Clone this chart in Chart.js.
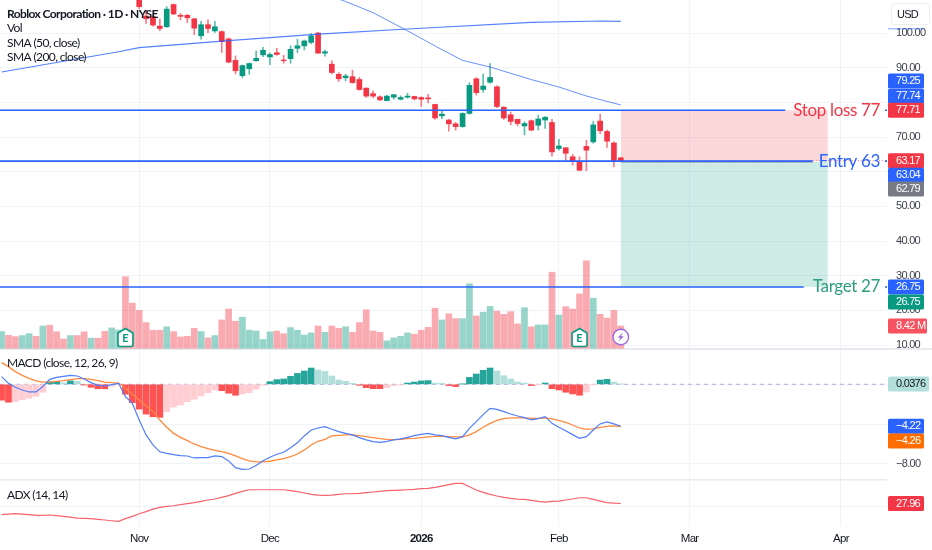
<!DOCTYPE html>
<html>
<head>
<meta charset="utf-8">
<title>Roblox Corporation</title>
<script src="https://cdn.jsdelivr.net/npm/chart.js@4"></script>
<style>
    html, body { margin: 0; padding: 0; background: #ffffff; overflow: hidden; }
    canvas { display: block; }
</style>
</head>
<body>
<canvas id="chart" width="932" height="550"></canvas>
<script>
// Daily candles, Nov 3 2025 onwards. Anything before index 20 is off the top of the pane
const firstCandle = 20;
const opens = [112,104.9,104.7,102,101.8,108.2,105.1,105.1,104.1,99.2,102.4,100.6,100.4,98.3,92.1,87.7,89.7,92,93.7,93.1,94.3,92.2,92.6,95.6,96.3,97.3,100,94.2,91,88.1,87.1,87.4,86.6,84.1,82.5,81.6,80.5,81.5,80.9,81.5,81.7,81.4,81.3,79.4,76.1,74.9,73.8,73,76.8,86.8,83.7,85.8,84.5,78.6,76.4,75.1,73.2,74.7,73.4,74.9,74.2,66.7,66.9,64.3,63,67.3,68.6,74.6,71.6,68.3,64];
const closes = [107.6,104.1,102.3,101.3,106.9,105.5,104.8,104.4,101.4,102.4,101.3,101.8,97.5,91.6,89.1,90.6,91.2,92.7,95,93.8,93.8,92,95.3,96.3,97.7,99.2,94.2,94.6,88.6,86.8,87.6,85.7,83.7,81.8,81.8,80.7,81.8,82.2,81.4,81.8,81,80.9,81,75.5,76.6,73.8,73,76.8,84.9,82.8,84.7,87.2,78.8,75.5,74.5,73.9,73.9,72,75.2,75.7,65.7,67.4,65.3,63,60.4,66.2,73.5,71.8,68.8,63,63.17];
const highs = [113,106.6,105.2,104,107.6,108.4,105.7,105.4,104.2,103.4,103.8,103.4,100.6,98.6,93.4,90.8,91.4,94.8,95.9,94.3,95.6,93.6,96.3,98.2,98,99.9,100.2,95.1,92,88.6,88.1,89.3,87.2,84.2,83.3,81.9,82,82.3,81.9,82.6,81.8,81.6,82.3,79.5,77.8,75.1,74.2,77,85.7,87.1,88.2,91.2,84.8,78.8,77.2,75.1,74.4,74.9,76.3,75.9,75.1,69.3,67,65,64.3,69.1,74.5,76.6,72,68.6,64.1];
const lows = [107,102.8,102,100.7,101.6,105.3,103.8,103,99.5,98.2,100.1,100.2,94.4,91.4,88.2,87.1,88.1,91.9,93.2,90.9,93.6,91.3,91.3,94.3,95.1,96.9,94.1,93.3,88.2,86,86.2,85.5,83.5,81.4,81.3,80.5,80.4,80.9,80.7,81.2,80.7,78.8,79.8,75.1,75.3,71.7,72,72.8,76.6,82.1,82.9,85.5,78.5,75.1,73.5,73.2,70.6,71.8,72,72.5,64.5,66.2,63.2,61.9,60.3,60.3,68.2,71,67,61.4,63];

// Volume in millions, index 0 to 90
const volumes = [6.3,4.9,4.4,4.8,5.5,4.5,8.4,8.7,6.2,3.5,4.8,4.8,6.2,3.8,3.8,6.4,7.7,6.9,27,17,14.3,9.7,6.8,6.8,8.1,6.3,4.3,4.5,7.5,6.3,3.9,4.8,10.7,14.8,10.2,11.7,6.8,6.5,3.3,6.2,6.5,5.5,7.8,6.8,5,5.8,8.4,6,8.4,7.5,8.1,6,9.7,14.5,6.5,6,2.8,3.9,4.5,5.8,5.3,6.8,7.9,15.1,10.7,13,11.2,11.2,24.3,12.2,13.6,15.8,14,12.8,13.8,9.2,15.3,8.1,8.8,8.8,28.7,12.5,15.7,14.8,20.5,33,18.9,12.8,11.4,14.3,8.42];
// Up/down days for the volume bars whose candles are off screen
const earlyVolumeUp = [1,0,0,1,1,0,1,0,0,0,1,0,0,1,0,0,1,1,0,0];

const macdHist = [-1.6,-1.8,-1.75,-1.55,-1.4,-1.2,-.8,.25,.3,.15,.35,.3,-.08,-.3,-.45,-.45,-.2,-.03,-1,-1.85,-2.5,-3,-3.26,-3.33,-2.76,-2.3,-2.08,-1.75,-1.5,-1.17,-.84,-.57,-.64,-.9,-1.1,-.97,-.84,-.5,-.1,.27,.47,.54,.8,1.1,1.34,1.64,1.44,1.3,.84,.43,.3,.1,-.1,-.34,-.44,-.44,-.34,-.13,-.07,.13,.23,.34,.37,.13,.1,-.13,-.23,.03,.7,1.04,1.41,1.64,1.34,.87,.54,.23,.13,-.13,-.03,.13,-.44,-.57,-.8,-.97,-1.1,-.77,-.03,.43,.5,.23,.0376];
const macdLine = [.77,.1,-.3,-.57,-.77,-.77,-.23,.5,.7,.8,.9,.84,.54,.17,-.1,-.17,-.03,.1,-1.24,-1.92,-3.6,-5.1,-6.1,-6.8,-6.95,-7.08,-7.18,-7.22,-7.42,-7.39,-7.39,-7.22,-7.28,-7.72,-8.39,-8.56,-8.53,-8.19,-7.69,-7.35,-7.05,-6.85,-6.38,-5.88,-5.2,-4.6,-4.4,-4.27,-4.53,-4.77,-4.94,-5.1,-5.37,-5.6,-5.77,-5.84,-5.74,-5.6,-5.5,-5.34,-5.17,-5.04,-4.94,-5.1,-5.17,-5.34,-5.5,-5.27,-4.43,-3.76,-3.06,-2.42,-2.52,-2.75,-2.99,-3.19,-3.36,-3.59,-3.46,-3.26,-3.93,-4.33,-4.67,-5.07,-5.44,-5.27,-4.6,-3.99,-3.79,-3.99,-4.22];
const macdSignal = [2.18,1.78,1.28,.9,.6,.34,.23,.23,.3,.37,.47,.57,.57,.5,.37,.23,.17,.13,-.4,-.97,-1.58,-2.15,-2.75,-3.6,-4.33,-4.94,-5.34,-5.68,-6.01,-6.28,-6.48,-6.65,-6.78,-6.95,-7.22,-7.49,-7.72,-7.82,-7.82,-7.75,-7.62,-7.49,-7.28,-7.02,-6.61,-6.11,-5.74,-5.54,-5.2,-5.14,-5.1,-5.1,-5.17,-5.27,-5.37,-5.47,-5.54,-5.57,-5.54,-5.47,-5.44,-5.37,-5.3,-5.24,-5.24,-5.27,-5.3,-5.3,-5.1,-4.77,-4.33,-3.93,-3.63,-3.46,-3.39,-3.39,-3.39,-3.43,-3.43,-3.39,-3.49,-3.63,-3.83,-4.1,-4.4,-4.53,-4.5,-4.33,-4.23,-4.19,-4.26];
const adxLine = [17.6,18.2,18.5,18.2,17.6,17,17,17.3,16.7,16,15.4,14.5,14.2,13.9,13.3,12.7,12,11.4,13.9,16,18.5,20.4,22.8,24.4,25.3,25.9,26.9,27.8,28.7,29.9,31.2,32.1,33.6,35.2,37.3,39.2,40.7,40.7,40.7,40.7,40.7,40.7,39.8,38.9,37.7,36.4,35.8,35.5,35.8,36.4,37,37,37.3,38,38.6,39.2,39.8,40.1,40.4,40.7,41,41.7,42,42.9,44.1,45.4,46.6,46.6,43.5,40.4,38.3,36.4,34.9,33.6,32.7,32.1,31.8,30.9,29.9,29.3,29.9,30.2,31.2,32.1,33.3,33.3,31.8,30.2,28.7,28.4,27.96];

// Moving averages, read at their bends only
const sma50Days = [48,50,54,59,63,67,71,77,81,85,90];
const sma50Values = [110.5,109.09,105.86,100.63,96.25,92.1,90.19,86.56,84.42,81.83,79.25];
const sma200Days = [0,17,20,33,46,59,77,87,90];
const sma200Values = [88.75,94.6,95.76,97.78,99.7,101.15,103.09,103.46,103.37];

// Trade drawing
const stopLevel = 77.74;
const entryLevel = 63.04;
const targetLevel = 26.75;
const riskTop = 77.71;
const entryTop = 63.17;
const entryBottom = 62.79;

// Axis ticks
const priceTicks = [100,90,80,70,60,50,40,30,20,10];
const macdTicks = [0,-4,-8];
const adxTicks = [25];
const monthTicks = [20,39,61,81,100,122];
const monthLabels = ['Nov','Dec','2026','Feb','Mar','Apr'];

const earningsDays = [18,84];
const dividendDay = 90;
const lastDay = 90;
const tradeEndDay = 120.1;

const RED = '#f23645';
const GREEN = '#089981';
const BLUE = '#2962ff';
const ORANGE = '#ff6d00';
const GRID = '#f0f3fa';
const FONT = 'Lato, sans-serif';
const NUM_FONT = '"Liberation Sans", sans-serif';

// index <-> pixel: one trading day is 6.88px and day 0 sits at x = 1.6
const xMin = -1.6 / 6.88;
const xMax = (887 - 1.6) / 6.88;

const days = volumes.map((v, i) => i);
const candleDays = opens.map((v, i) => i + firstCandle);
const isUp = i => closes[i] >= opens[i];
const candleColors = opens.map((v, i) => isUp(i) ? GREEN : RED);
const wickColors = opens.map((v, i) => isUp(i) ? 'rgba(8,153,129,0.65)' : 'rgba(242,54,69,0.65)');

const volumeColors = days.map(i => {
    const up = i < firstCandle ? earlyVolumeUp[i] : isUp(i - firstCandle);
    return up ? 'rgba(8,153,129,0.42)' : 'rgba(242,54,69,0.42)';
});
const histColors = days.map(i => {
    const v = macdHist[i];
    const prev = i === 0 ? 0 : macdHist[i - 1];
    if (v >= 0) return v > prev ? '#26a69a' : '#b2dfdb';
    return v <= prev ? '#ff5252' : '#ffcdd2';
});

function pairs(xs, ys) {
    return xs.map((x, i) => ({ x: x, y: ys[i] }));
}

function lineSet(points, yAxisID, color, width, order, extra) {
    return Object.assign({
        type: 'line',
        data: points,
        yAxisID: yAxisID,
        borderColor: color,
        borderWidth: width,
        pointRadius: 0,
        tension: 0,
        order: order
    }, extra || {});
}

// horizontal level with a gap where its text sits
function levelLine(value, gapFrom, gapTo) {
    return lineSet([
        { x: xMin, y: value },
        { x: gapFrom, y: value },
        { x: (gapFrom + gapTo) / 2, y: null },
        { x: gapTo, y: value },
        { x: xMax, y: value }
    ], 'y', BLUE, 1.6, 1);
}

function barSet(points, yAxisID, color, thickness, order) {
    return {
        type: 'bar',
        data: points,
        yAxisID: yAxisID,
        backgroundColor: color,
        barThickness: thickness,
        grouped: false,
        order: order
    };
}

const datasets = [
    // risk and reward zones
    lineSet(pairs([lastDay, tradeEndDay], [riskTop, riskTop]), 'y', 'rgba(0,0,0,0)', 0, 11,
        { fill: { value: entryTop }, backgroundColor: 'rgba(242,54,69,0.2)' }),
    lineSet(pairs([lastDay, tradeEndDay], [entryBottom, entryBottom]), 'y', 'rgba(0,0,0,0)', 0, 11,
        { fill: { value: targetLevel }, backgroundColor: 'rgba(8,153,129,0.2)' }),

    barSet(pairs(days, volumes), 'yVol', volumeColors, 6, 10),

    barSet(candleDays.map((d, i) => ({ x: d, y: [lows[i], highs[i]] })), 'y', wickColors, 1, 5),
    barSet(candleDays.map((d, i) => ({ x: d, y: [opens[i], closes[i]] })), 'y', candleColors, 5, 4),

    lineSet(pairs(sma200Days, sma200Values), 'y', 'rgba(41,98,255,0.8)', 1.2, 3),
    lineSet(pairs(sma50Days, sma50Values), 'y', 'rgba(41,98,255,0.7)', 1, 3),

    levelLine(stopLevel, 113.9, 128.4),
    levelLine(entryLevel, 117.9, 128.4),
    levelLine(targetLevel, 116.6, 128.4),

    // last price and average price lines
    lineSet(pairs([lastDay, xMax], [entryTop, entryTop]), 'y', 'rgba(242,54,69,0.7)', 1, 2, { borderDash: [1, 2] }),
    lineSet(pairs([lastDay, 117.9], [entryBottom, entryBottom]), 'y', 'rgba(120,123,134,0.8)', 1, 2),

    lineSet(pairs([xMin, xMax], [0, 0]), 'yMacd', 'rgba(120,123,190,0.55)', 1, 7, { borderDash: [4, 4] }),
    barSet(pairs(days, macdHist), 'yMacd', histColors, 6, 6),
    lineSet(pairs(days, macdSignal), 'yMacd', '#ff8a3d', 1.3, 2),
    lineSet(pairs(days, macdLine), 'yMacd', '#4f7dfb', 1.2, 1),

    lineSet(pairs(days, adxLine), 'yAdx', '#f7626c', 1.2, 1)
];

// Price tags on the right edge. shift moves a tag clear of its neighbour
const priceTags = [
    { axis: 'y', value: 79.25, text: '79.25', bg: BLUE, fg: '#fff', shift: -24 },
    { axis: 'y', value: 77.74, text: '77.74', bg: BLUE, fg: '#fff', shift: -14 },
    { axis: 'y', value: 77.71, text: '77.71', bg: RED, fg: '#fff', shift: 0 },
    { axis: 'y', value: 63.17, text: '63.17', bg: RED, fg: '#fff', shift: 0 },
    { axis: 'y', value: 63.04, text: '63.04', bg: BLUE, fg: '#fff', shift: 14 },
    { axis: 'y', value: 62.79, text: '62.79', bg: '#787b86', fg: '#fff', shift: 27 },
    { axis: 'y', value: 26.75, text: '26.75', bg: BLUE, fg: '#fff', shift: 0 },
    { axis: 'y', value: 26.75, text: '26.75', bg: GREEN, fg: '#fff', shift: 15 },
    { axis: 'yVol', value: 8.42, text: '8.42 M', bg: '#f7525f', fg: '#fff', shift: 0, wide: 39 },
    { axis: 'yMacd', value: 0.0376, text: '0.0376', bg: '#b2dfdb', fg: '#131722', shift: 0, wide: 41 },
    { axis: 'yMacd', value: -4.22, text: '\u22124.22', bg: BLUE, fg: '#fff', shift: 0 },
    { axis: 'yMacd', value: -4.26, text: '\u22124.26', bg: ORANGE, fg: '#fff', shift: 14.5 },
    { axis: 'yAdx', value: 27.96, text: '27.96', bg: RED, fg: '#fff', shift: 0 }
];

const indicatorTitles = [
    { text: 'Roblox Corporation \u00b7 1D \u00b7 NYSE', y: 14, bold: true },
    { text: 'Vol', y: 28.5 },
    { text: 'SMA (50, close)', y: 43 },
    { text: 'SMA (200, close)', y: 57 },
    { text: 'MACD (close, 12, 26, 9)', y: 363.5 },
    { text: 'ADX (14, 14)', y: 495 }
];

const tradeLabels = [
    { text: 'Stop loss 77', value: stopLevel, color: RED },
    { text: 'Entry 63', value: entryLevel, color: BLUE },
    { text: 'Target 27', value: targetLevel, color: '#2e9e7f' }
];

function roundRect(ctx, x, y, w, h, r) {
    ctx.beginPath();
    ctx.roundRect(x, y, w, h, r);
}

const overlayPlugin = {
    id: 'overlay',
    beforeDraw(chart) {
        // axis numbers are a bit tighter than Liberation Sans
        chart.ctx.letterSpacing = '-0.7px';
    },
    beforeDatasetsDraw(chart) {
        const { ctx, scales, chartArea } = chart;
        // pane separators
        ctx.save();
        ctx.fillStyle = '#e8eaf0';
        ctx.fillRect(0, scales.yMacd.top - 1, 932, 2);
        ctx.fillRect(0, scales.yAdx.top - 1, chartArea.right, 1.5);
        ctx.restore();
    },
    afterDraw(chart) {
        const { ctx, scales } = chart;
        ctx.save();

        // trade labels
        ctx.letterSpacing = '-0.35px';
        ctx.textAlign = 'right';
        ctx.textBaseline = 'middle';
        ctx.font = '17px ' + FONT;
        tradeLabels.forEach(l => {
            ctx.fillStyle = l.color;
            ctx.fillText(l.text, 880, scales.y.getPixelForValue(l.value));
        });

        // indicator titles
        ctx.letterSpacing = '-0.6px';
        ctx.textAlign = 'left';
        indicatorTitles.forEach(t => {
            ctx.font = (t.bold ? 'bold ' : '') + '12px ' + FONT;
            ctx.fillStyle = '#131722';
            ctx.fillText(t.text, 7, t.y);
        });
        ctx.letterSpacing = '0px';

        // earnings markers
        earningsDays.forEach(d => {
            const x = scales.x.getPixelForValue(d);
            const y = 337.5;
            ctx.beginPath();
            ctx.moveTo(x, y - 9);
            ctx.lineTo(x + 7.5, y - 4.5);
            ctx.lineTo(x + 7.5, y + 7);
            ctx.arcTo(x + 7.5, y + 9, x + 5.5, y + 9, 2);
            ctx.lineTo(x - 5.5, y + 9);
            ctx.arcTo(x - 7.5, y + 9, x - 7.5, y + 7, 2);
            ctx.lineTo(x - 7.5, y - 4.5);
            ctx.closePath();
            ctx.fillStyle = '#fff';
            ctx.fill();
            ctx.lineWidth = 1.6;
            ctx.strokeStyle = GREEN;
            ctx.stroke();
            ctx.fillStyle = GREEN;
            ctx.font = 'bold 11px ' + FONT;
            ctx.textAlign = 'center';
            ctx.fillText('E', x, y + 0.5);
        });

        // dividends / news marker
        const dx = scales.x.getPixelForValue(dividendDay);
        const dy = 337;
        ctx.beginPath();
        ctx.arc(dx, dy, 7.8, 0, Math.PI * 2);
        ctx.fillStyle = '#fff';
        ctx.fill();
        ctx.lineWidth = 1.4;
        ctx.strokeStyle = '#9c6ade';
        ctx.stroke();
        ctx.beginPath();
        ctx.moveTo(dx + 2, dy - 4.5);
        ctx.lineTo(dx - 3, dy + 0.8);
        ctx.lineTo(dx - 0.3, dy + 0.8);
        ctx.lineTo(dx - 2, dy + 4.5);
        ctx.lineTo(dx + 3, dy - 0.8);
        ctx.lineTo(dx + 0.3, dy - 0.8);
        ctx.closePath();
        ctx.fillStyle = '#9c6ade';
        ctx.fill();

        // price tags
        ctx.letterSpacing = '-0.7px';
        ctx.font = '11px ' + NUM_FONT;
        ctx.textBaseline = 'middle';
        priceTags.forEach(t => {
            const y = scales[t.axis].getPixelForValue(t.value) + t.shift;
            const w = t.wide || 36;
            ctx.fillStyle = t.bg;
            roundRect(ctx, 888, y - 7.5, w, 15, 1.5);
            ctx.fill();
            ctx.fillStyle = t.fg;
            ctx.textAlign = 'left';
            ctx.fillText(t.text, 896, y);
        });

        // what shows of the SMA 200 tag under the currency button
        ctx.fillStyle = 'rgba(41,98,255,0.6)';
        ctx.fillRect(888, scales.y.getPixelForValue(sma200Values[sma200Values.length - 1]) + 7, 36, 1);

        // currency button
        ctx.fillStyle = '#fff';
        roundRect(ctx, 891.5, 3.5, 38, 21, 3);
        ctx.fill();
        ctx.strokeStyle = '#eceef3';
        ctx.lineWidth = 1;
        ctx.stroke();
        ctx.fillStyle = '#131722';
        ctx.textAlign = 'center';
        ctx.fillText('USD', 907.5, 14.5);

        ctx.restore();
    }
};

function fixedWidth(scale) {
    scale.width = 45;
    scale.paddingTop = 0;
    scale.paddingBottom = 0;
}

function setTicks(values) {
    return function (scale) {
        scale.ticks = values.map(v => ({ value: v }));
    };
}

function tickLabel(v) {
    return v.toFixed(2).replace('-', '\u2212');
}

function valueAxis(min, max, weight, ticks) {
    return {
        type: 'linear',
        position: 'right',
        stack: 'panes',
        stackWeight: weight,
        min: min,
        max: max,
        afterFit: fixedWidth,
        afterBuildTicks: setTicks(ticks),
        grid: { color: GRID, lineWidth: 1, drawTicks: false },
        border: { display: false },
        ticks: {
            autoSkip: false,
            padding: 9,
            color: '#3d414c',
            font: { family: NUM_FONT, size: 11 },
            callback: tickLabel
        }
    };
}

const priceChart = new Chart(document.getElementById('chart').getContext('2d'), {
    type: 'bar',
    data: { datasets: datasets },
    plugins: [overlayPlugin],
    options: {
        responsive: false,
        animation: false,
        layout: { padding: 0 },
        plugins: { legend: { display: false }, tooltip: { enabled: false } },
        scales: {
            x: {
                type: 'linear',
                offset: false,
                min: xMin,
                max: xMax,
                afterBuildTicks: setTicks(monthTicks),
                afterFit: scale => {
                    scale.height = 24;
                    scale.paddingLeft = 0;
                    scale.paddingRight = 0;
                },
                grid: { offset: false, color: GRID, lineWidth: 1, drawTicks: false },
                border: { display: false },
                ticks: {
                    autoSkip: false,
                    maxRotation: 0,
                    padding: 6,
                    color: '#131722',
                    font: ctx => ({
                        family: NUM_FONT,
                        size: 11.5,
                        weight: ctx.tick && ctx.tick.value === 61 ? 'bold' : 'normal'
                    }),
                    callback: v => monthLabels[monthTicks.indexOf(v)]
                }
            },
            y: valueAxis(8.86, 109.52, 349, priceTicks),
            yMacd: valueAxis(-9.64, 3.557, 131, macdTicks),
            yAdx: valueAxis(7.13, 49.72, 46, adxTicks),
            yVol: { type: 'linear', position: 'left', display: false, min: -67.06, max: 131.4 }
        }
    }
});
</script>
</body>
</html>
